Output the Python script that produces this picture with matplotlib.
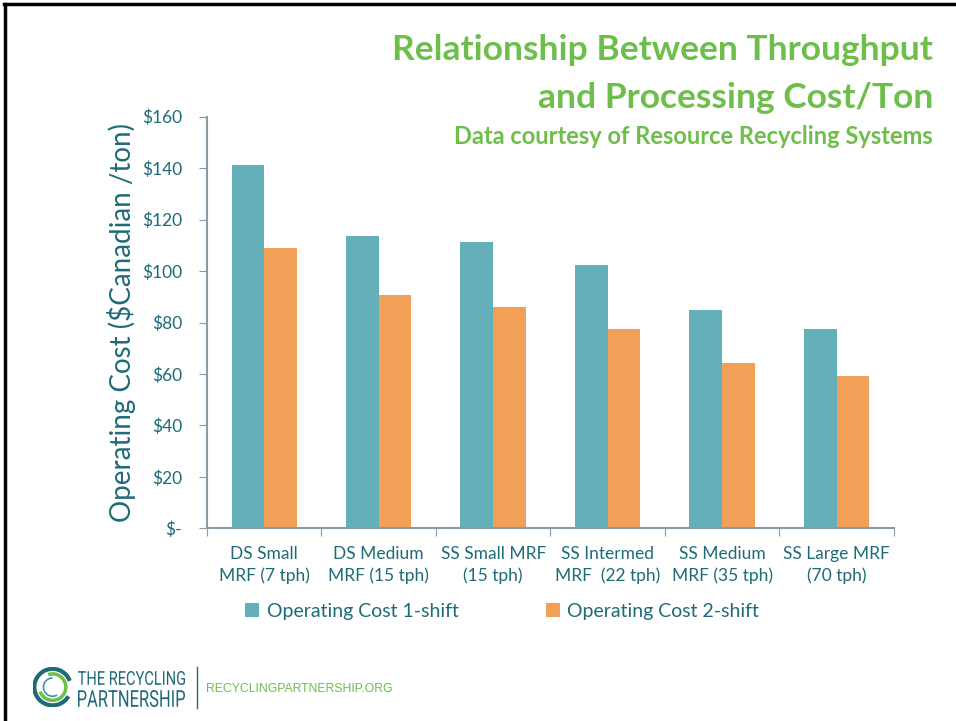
import matplotlib.pyplot as plt
import numpy as np
from matplotlib.patches import Arc, PathPatch
from matplotlib.lines import Line2D
from matplotlib.textpath import TextPath
from matplotlib.font_manager import FontProperties
from matplotlib.transforms import Affine2D

categories = ['DS Small\nMRF (7 tph)', 'DS Medium\nMRF (15 tph)', 'SS Small MRF\n(15 tph)',
              'SS Intermed\nMRF  (22 tph)', 'SS Medium\nMRF (35 tph)', 'SS Large MRF\n(70 tph)']
one_shift = [141.1, 113.7, 111.3, 102.4, 84.7, 77.4]
two_shift = [109.0, 90.6, 86.0, 77.4, 64.1, 59.3]
yticks = [0, 20, 40, 60, 80, 100, 120, 140, 160]
ytick_labels = ['$-', '$20', '$40', '$60', '$80', '$100', '$120', '$140', '$160']

teal = '#63AFBA'
orange = '#F2A057'
dark = '#1E6B77'
green = '#6DBE4B'
grey = '#8A9BA3'

plt.rcParams['font.family'] = ['Lato', 'DejaVu Sans']

fig = plt.figure(figsize=(9.56, 7.21), dpi=100)
ax = fig.add_axes([0.2165, 0.2673, 0.935 - 0.2165, 0.8381 - 0.2673])

x = np.arange(len(categories))
w = 0.2857
ax.bar(x - w / 2, one_shift, w, color=teal, label='Operating Cost 1-shift')
ax.bar(x + w / 2, two_shift, w, color=orange, label='Operating Cost 2-shift')

ax.set_xlim(-0.5, len(categories) - 0.5)
ax.set_ylim(0, 160)
ax.set_yticks(yticks)
ax.set_yticklabels(ytick_labels, color=dark, fontsize=12.5)
ax.set_xticks(np.arange(len(categories) + 1) - 0.5, minor=False)
ax.set_xticklabels([''] * (len(categories) + 1))
ax.set_xticks(x, minor=True)
ax.set_xticklabels(categories, minor=True, color=dark, fontsize=12.5, linespacing=1.4)
ax.tick_params(axis='x', which='minor', length=0, pad=13)
ax.tick_params(axis='x', which='major', length=6, direction='out', color=grey)
ax.tick_params(axis='y', length=6, color=grey, pad=12)

for s in ['top', 'right']:
    ax.spines[s].set_visible(False)
for s in ['left', 'bottom']:
    ax.spines[s].set_color(grey)
    ax.spines[s].set_linewidth(1.5)

ax.set_ylabel('Operating Cost ($Canadian /ton)', color=dark, fontsize=20, labelpad=4)

leg = ax.legend(loc='upper center', bbox_to_anchor=(0.43, -0.138), ncol=2, frameon=False,
                fontsize=14, handlelength=0.7, handleheight=0.7, handletextpad=0.4,
                columnspacing=4.5)
for t in leg.get_texts():
    t.set_color(dark)

# title block
fig.text(0.976, 0.930, 'Relationship Between Throughput', ha='right', va='center',
         color=green, fontsize=25.5, fontweight='bold')
fig.text(0.976, 0.864, 'and Processing Cost/Ton', ha='right', va='center',
         color=green, fontsize=25.5, fontweight='bold')
fig.text(0.976, 0.811, 'Data courtesy of Resource Recycling Systems', ha='right', va='center',
         color=green, fontsize=17, fontweight='bold')

# slide border (top and left)
fig.add_artist(Line2D([0.004, 1.0], [0.995, 0.995], color='black', lw=2.5, transform=fig.transFigure))
fig.add_artist(Line2D([0.005, 0.005], [0.0, 0.995], color='black', lw=2.5, transform=fig.transFigure))

# footer logo
lax = fig.add_axes([0.034, 0.018, 0.042, 0.058])
lax.set_xlim(-1.1, 1.1)
lax.set_ylim(-1.1, 1.1)
lax.set_aspect('equal')
lax.axis('off')
lax.add_patch(Arc((0, 0), 2.0, 2.0, theta1=20, theta2=330, color='#1E6B77', lw=3))
lax.add_patch(Arc((0, 0), 1.45, 1.45, theta1=200, theta2=110, color='#6DBE4B', lw=2.5))
lax.add_patch(Arc((0, 0), 1.0, 1.0, theta1=90, theta2=300, color='#3A9AA8', lw=1.2))


def squeezed_text(s, x0, y0, width, height):
    # draw text as a path stretched to a given box in pixels
    tp = TextPath((0, 0), s, size=10, prop=FontProperties(family='Roboto'))
    bb = tp.get_extents()
    tr = Affine2D().translate(-bb.x0, -bb.y0).scale(width / bb.width, height / bb.height) \
        .translate(x0, 721 - y0 - height)
    fig.add_artist(PathPatch(tr.transform_path(tp), color='#1E6B77', lw=0,
                             transform=None))


squeezed_text('THE RECYCLING', 78, 671, 107, 14)
squeezed_text('PARTNERSHIP', 78, 690, 107, 17)

fig.add_artist(Line2D([0.206, 0.206], [0.018, 0.075], color='#1E6B77', lw=1, transform=fig.transFigure))
fig.text(0.216, 0.044, 'RECYCLINGPARTNERSHIP.ORG', color=green, fontsize=8.8, va='center',
         family=['Liberation Sans', 'DejaVu Sans'])

fig.savefig('out.png', dpi=100)
